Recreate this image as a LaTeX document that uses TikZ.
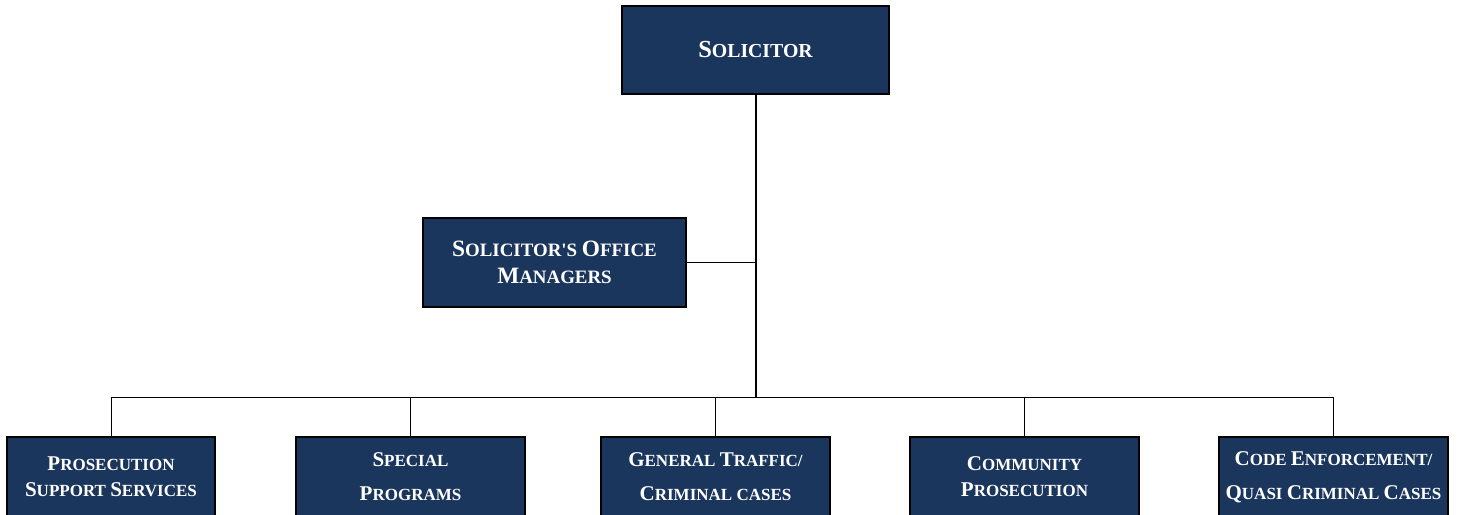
\documentclass[tikz,border=0pt]{standalone}
\usepackage{fontspec}
\setmainfont{Liberation Serif}
\definecolor{navy}{RGB}{27,54,93}
\def\capsz{21pt}
\newcommand{\Cap}[1]{{\fontsize{\capsz}{\capsz}\selectfont #1}}
\begin{document}
\begin{tikzpicture}[x=1pt,y=-1pt,
  orgbox/.style={draw=black, line width=1.6pt, fill=navy, text=white, align=center, inner sep=0pt},
  topfont/.style={font=\bfseries\fontsize{19.8}{24}\selectfont\def\capsz{24.5pt}},
  midfont/.style={font=\bfseries\fontsize{18.9}{27}\selectfont\def\capsz{23.4pt}},
  lowfont/.style={font=\bfseries\fontsize{17}{26}\selectfont\def\capsz{21pt}},
  trunk/.style={draw=black, line width=2pt},
  branch/.style={draw=black, line width=1pt}]
\useasboundingbox (0,0) rectangle (1458,514);
\clip (0,0) rectangle (1458,514);
\fill[white] (0,0) rectangle (1458,514);

\node[orgbox, topfont, minimum width=267, minimum height=88] (sol) at (755.5,50) {\Cap{S}OLICITOR};
\node[orgbox, midfont, minimum width=263, minimum height=89] (mgr) at (554.5,262.5) {\Cap{S}OLICITOR\textquotesingle S \Cap{O}FFICE\\\Cap{M}ANAGERS};

\node[orgbox, lowfont, minimum width=208, minimum height=80] (b1) at (111,477) {\Cap{P}ROSECUTION\\\Cap{S}UPPORT \Cap{S}ERVICES};
\node[orgbox, lowfont, minimum width=229, minimum height=80] (b2) at (410.5,477) {\Cap{S}PECIAL\\[8pt]\Cap{P}ROGRAMS};
\node[orgbox, lowfont, minimum width=229, minimum height=80] (b3) at (715.5,477) {\Cap{G}ENERAL \Cap{T}RAFFIC/\\[8pt]\Cap{C}RIMINAL CASES};
\node[orgbox, lowfont, minimum width=229, minimum height=80] (b4) at (1024.5,477) {\Cap{C}OMMUNITY\\\Cap{P}ROSECUTION};
\node[orgbox, lowfont, minimum width=229, minimum height=80] (b5) at (1333.5,477) {\Cap{C}ODE \Cap{E}NFORCEMENT/\\[8pt]\Cap{Q}UASI \Cap{C}RIMINAL \Cap{C}ASES};

\coordinate (hub) at (756,397.5);
\draw[branch] (mgr.east) -- (mgr.east -| hub);
\draw[branch] (b1.north) -- (b1.north |- hub) -- (b5.north |- hub) -- (b5.north);
\draw[branch] (b2.north) -- (b2.north |- hub);
\draw[branch] (b3.north) -- (b3.north |- hub);
\draw[branch] (b4.north) -- (b4.north |- hub);
\draw[trunk] (sol.south -| hub) -- (hub);
\end{tikzpicture}
\end{document}
